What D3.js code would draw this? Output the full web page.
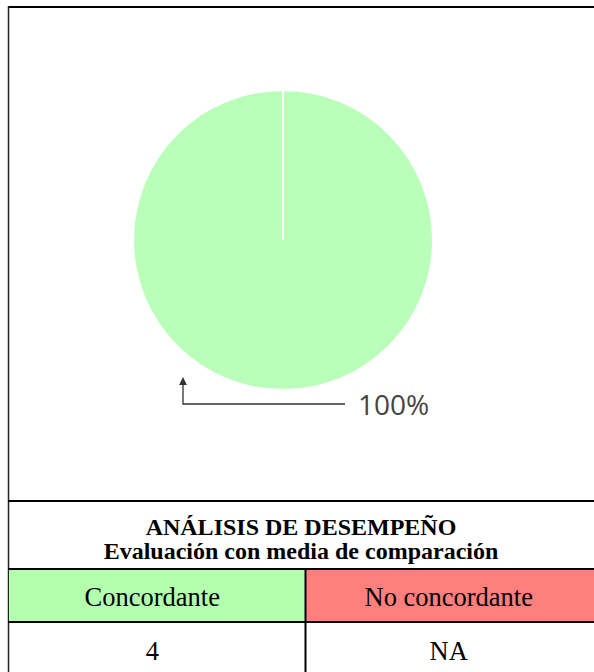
<!DOCTYPE html>
<html>
<head>
<meta charset="utf-8">
<script src="https://cdn.jsdelivr.net/npm/d3@7"></script>
<style>
  body { margin: 0; background: #fff; }
</style>
</head>
<body>
<div id="chart"></div>
<script>
// data
const categories = ["Concordante", "No concordante"];
const counts = [4, "NA"];
const pieValues = [100, 0];   // percent per category
const pieLabel = "100%";
const titleLines = ["ANÁLISIS DE DESEMPEÑO", "Evaluación con media de comparación"];

const W = 594, H = 672;
const svg = d3.select("#chart").append("svg")
    .attr("width", W)
    .attr("height", H);

// pie
const cx = 283, cy = 240, r = 149;
const pieGen = d3.pie().sort(null).value(d => d)(pieValues);
const arc = d3.arc().innerRadius(0).outerRadius(r);

const g = svg.append("g").attr("transform", `translate(${cx},${cy})`);
g.selectAll("path")
    .data(pieGen.filter(d => d.value > 0))
    .enter()
    .append("path")
    .attr("d", arc)
    .attr("fill", "#b9ffb9");

// white slice edge from centre to top
g.append("line")
    .attr("x1", 0).attr("y1", 0)
    .attr("x2", 0).attr("y2", -r)
    .attr("stroke", "#fff")
    .attr("stroke-width", 2);

// leader line + label
svg.append("defs").append("marker")
    .attr("id", "arrow")
    .attr("viewBox", "0 0 10 10")
    .attr("refX", 5).attr("refY", 5)
    .attr("markerWidth", 6).attr("markerHeight", 6)
    .attr("orient", "auto")
    .append("path")
    .attr("d", "M0,0 L10,5 L0,10 z")
    .attr("fill", "#333");

svg.append("polyline")
    .attr("points", "345,404 183,404 183,381")
    .attr("fill", "none")
    .attr("stroke", "#333")
    .attr("stroke-width", 1.3)
    .attr("marker-end", "url(#arrow)");

svg.append("text")
    .attr("x", 358)
    .attr("y", 415)
    .attr("font-family", "Open Sans, Lato, sans-serif")
    .attr("font-size", 28)
    .attr("fill", "#444")
    .text(pieLabel);

// outer frame
svg.append("line").attr("x1", 8).attr("x2", W).attr("y1", 7).attr("y2", 7)
    .attr("stroke", "#000").attr("stroke-width", 2);
svg.append("line").attr("x1", 8.5).attr("x2", 8.5).attr("y1", 6).attr("y2", H)
    .attr("stroke", "#222").attr("stroke-width", 1.5);

// table
const x = d3.scaleBand().domain(categories).range([9, 602]);
const rowTop = 569, rowMid = 622;

svg.selectAll("rect.head")
    .data(categories)
    .enter()
    .append("rect")
    .attr("class", "head")
    .attr("x", d => x(d))
    .attr("y", rowTop)
    .attr("width", x.bandwidth())
    .attr("height", rowMid - rowTop)
    .attr("fill", (d, i) => i === 0 ? "#b3ffad" : "#ff7f7f");

const lines = [
    [8, 501, W, 501],
    [8, rowTop, W, rowTop],
    [8, rowMid, W, rowMid],
    [305.5, rowTop, 305.5, H]
];
svg.selectAll("line.grid")
    .data(lines)
    .enter()
    .append("line")
    .attr("class", "grid")
    .attr("x1", d => d[0]).attr("y1", d => d[1])
    .attr("x2", d => d[2]).attr("y2", d => d[3])
    .attr("stroke", "#000")
    .attr("stroke-width", 2);

svg.selectAll("text.title")
    .data(titleLines)
    .enter()
    .append("text")
    .attr("class", "title")
    .attr("x", 301)
    .attr("y", (d, i) => 535 + i * 24)
    .attr("text-anchor", "middle")
    .attr("font-family", "Liberation Serif, serif")
    .attr("font-weight", "bold")
    .attr("font-size", 24)
    .text(d => d);

svg.selectAll("text.cat")
    .data(categories)
    .enter()
    .append("text")
    .attr("class", "cat")
    .attr("x", d => x(d) + x.bandwidth() / 2 - 5)
    .attr("y", 606)
    .attr("text-anchor", "middle")
    .attr("font-family", "Liberation Serif, serif")
    .attr("font-size", 26.5)
    .text(d => d);

svg.selectAll("text.count")
    .data(counts)
    .enter()
    .append("text")
    .attr("class", "count")
    .attr("x", (d, i) => x(categories[i]) + x.bandwidth() / 2 - 5)
    .attr("y", 660)
    .attr("text-anchor", "middle")
    .attr("font-family", "Liberation Serif, serif")
    .attr("font-size", 26.5)
    .text(d => d);
</script>
</body>
</html>
